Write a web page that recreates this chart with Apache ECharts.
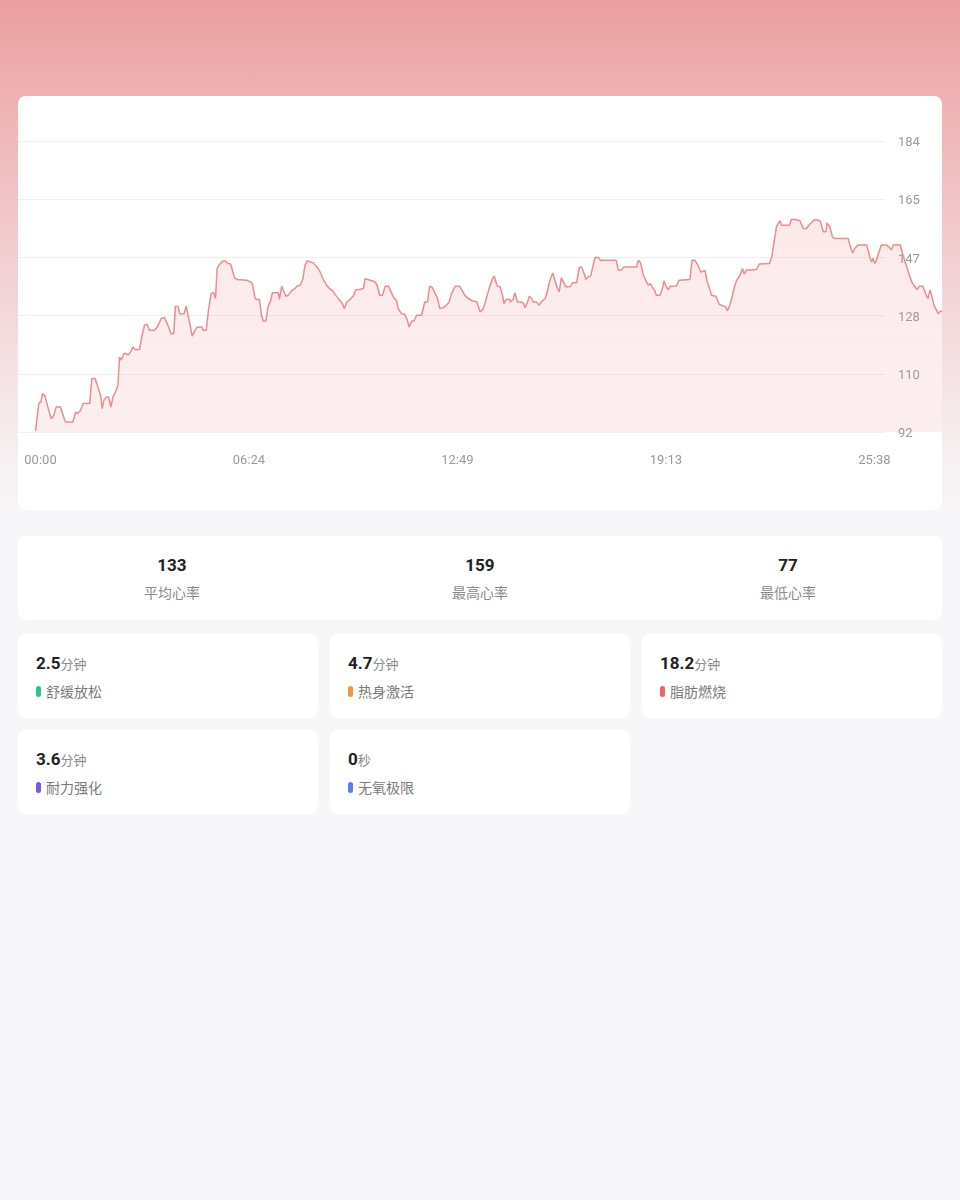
<!DOCTYPE html>
<html>
<head>
<meta charset="utf-8">
<script src="https://cdn.jsdelivr.net/npm/echarts@6/dist/echarts.min.js"></script>
<style>
html,body{margin:0;padding:0;}
body{width:960px;height:1200px;position:relative;overflow:hidden;
  background:linear-gradient(180deg,#eb9fa1 0px,#efb5b7 120px,#f2cdd0 250px,#f5e3e5 380px,#f7f2f4 470px,#f7f7f9 530px,#f7f7f9 1200px);
  font-family:Roboto,"Noto Sans CJK SC",sans-serif;}
.card{position:absolute;background:#fff;border-radius:8px;}
.sumCol{position:absolute;top:0;width:308px;height:84px;text-align:center;}
.sumVal{position:absolute;left:0;right:0;top:18px;font-size:17px;font-weight:700;color:#222;line-height:22px;}
.sumLab{position:absolute;left:0;right:0;top:47px;font-size:14px;color:#8a8a8a;line-height:18px;font-family:"Noto Sans CJK SC",sans-serif;}
.zVal{position:absolute;left:18px;top:18px;line-height:22px;white-space:nowrap;}
.zNum{font-size:17px;font-weight:700;color:#222;}
.zUnit{font-size:13px;color:#8a8a8a;font-family:"Noto Sans CJK SC",sans-serif;}
.zLab{position:absolute;left:28px;top:48px;font-size:14px;color:#7a7a7a;line-height:18px;font-family:"Noto Sans CJK SC",sans-serif;}
.zDot{position:absolute;left:18px;top:52px;width:5px;height:11px;border-radius:3px;}
</style>
</head>
<body>
<div class="card" style="left:18px;top:96px;width:924px;height:414px;">
  <div id="chart" style="width:924px;height:414px;"></div>
</div>
<div class="card" id="summary" style="left:18px;top:536px;width:924px;height:84px;"></div>
<div id="zones"></div>
<script>
// heart-rate samples: [seconds, bpm]
const hrPart1 = [[0,92.3],[6,101],[10,101.5],[13,104.1],[17,103.6],[22,100.4],[29,96.2],[34,97.3],[38,99.9],[46,99.9],[51,97.3],[55,95.2],[69,95.2],[74,98.3],[78,97.8],[83,98.9],[88,101],[100,101],[104,108.9],[110,108.9],[115,106.2],[120,103.6],[123,99.4],[126,102],[131,103.1],[135,103.1],[139,99.9],[143,103.1],[149,105.2],[152,106.8],[155,115.7],[158,114.7],[163,116.8],[167,116.8],[171,116.3],[177,117.8],[180,118.9],[183,118.1],[192,118.1],[196,122.1],[201,125.8],[206,126.1],[210,124.2],[220,124.2],[225,125.4],[229,126.8],[232,127.9],[238,128.2],[241,128.2],[244,125.8],[250,123.1],[255,123.1],[258,131.8],[263,131.6],[266,129.4],[274,129.4],[278,131.8],[281,132],[284,126.8],[289,122.3],[292,122.3],[297,125],[303,125.2],[307,125.2],[309,124.2],[315,124.2],[319,130.5],[324,135.8],[329,136],[332,134.2],[335,143.7],[338,144.7],[341,144.7],[346,146.1],[350,146.1],[355,145.3],[360,145.1],[364,142.6],[367,140.8],[372,140.2],[389,140],[392,139.5]];
const hrPart2 = [[396,139.5],[400,138.9],[405,134.2],[409,133.9],[413,133.9],[417,128.9],[420,127.1],[425,127.1],[429,131.6],[434,133.7],[437,136],[448,136],[450,133.9],[454,138.1],[457,138.1],[462,134.9],[466,135.2],[472,136.6],[479,137.4],[482,138.1],[488,138.4],[493,140.2],[497,144.7],[501,146.1],[506,145.8],[512,145.5],[519,144.2],[525,142.6],[531,140.2],[537,138.4],[542,137.4],[548,136.6],[554,135.2],[560,133.9],[566,132.6],[570,131],[574,133.1],[580,133.9],[583,133.9],[587,135.2],[591,137],[595,137],[605,137.4],[608,140.5],[611,141.1],[617,140],[626,139.5],[630,138.4],[635,135.2],[640,135.2],[645,138.1],[651,138.1],[655,136.6],[660,134.7],[666,133.5],[669,131],[675,129.4],[681,129.2],[686,127.3],[689,125.2],[694,127.1],[698,127.1],[703,128.9],[712,128.9],[718,133.1],[723,133.1],[727,138.1],[732,137.7],[737,135.8],[741,134.5],[746,131],[752,131.3],[758,132.1],[763,133.1],[767,135.6],[774,138.1],[782,138.1],[786,137],[792,135.2],[798,134.2],[806,133.5],[814,133.1]];
const hrPart3 = [[820,130],[825,130.7],[829,132.6],[833,135.2],[838,138.1],[843,140.5],[846,141.3],[849,139.5],[852,138.1],[857,137.9],[862,134.7],[864,132.6],[868,133.9],[875,133.9],[876,133.1],[881,133.9],[884,136],[887,136],[889,133.1],[895,133.1],[900,132.8],[903,131.3],[906,132.4],[911,134.9],[915,134.2],[918,133.1],[924,133.1],[929,132.1],[933,133.1],[940,134.2],[943,135.6],[948,139.5],[954,142.3],[958,140],[962,137.7],[966,136.3],[970,140.8],[973,140.8],[978,137.9],[986,137.9],[991,139.2],[998,139.2],[1003,144],[1007,144.2],[1012,142.1],[1015,140.2],[1020,141.1],[1024,141.3],[1029,145.1],[1032,147.2],[1038,147.2],[1042,146.3],[1071,146.3],[1075,143.2],[1081,143.2],[1085,144.2],[1109,144.2],[1112,146.3],[1116,145.5],[1121,141.6],[1127,139.5],[1130,138.4],[1134,138.9],[1138,137.7],[1142,136.8],[1145,135.2],[1152,135.2],[1157,137.7],[1159,139.8],[1163,138.1],[1167,137],[1171,138.1],[1182,138.1],[1187,140],[1207,140.2],[1211,146.3],[1216,146.3],[1222,144.7],[1227,142.6],[1230,143.2],[1235,143],[1239,139.5]];
const hrPart4 = [[1244,137],[1247,135.2],[1255,134.9],[1261,132.4],[1269,131.8],[1273,131.6],[1276,130.3],[1280,131.8],[1284,134.2],[1290,138.4],[1294,140.2],[1299,141.3],[1304,143.7],[1307,141.9],[1311,143.2],[1321,143.2],[1330,143.4],[1335,145.1],[1354,145.3],[1358,147.4],[1364,153.9],[1367,157.1],[1370,157.1],[1373,158.8],[1376,157.4],[1391,157.4],[1394,159.2],[1402,159.2],[1410,158.8],[1416,156.3],[1422,156.3],[1428,157.7],[1436,159],[1444,159],[1448,158.5],[1453,155.3],[1458,155.3],[1460,158.1],[1465,156.9],[1470,153.7],[1474,153.2],[1499,153.2],[1502,151.1],[1507,148.6],[1511,150],[1517,151.1],[1533,151.1],[1536,149.3],[1539,147.2],[1542,145.8],[1545,146.9],[1548,145.3],[1551,146.3],[1556,149],[1560,151.1],[1570,151.1],[1575,150.3],[1579,149.5],[1582,151.1],[1595,151.1],[1599,148.6],[1603,146.3],[1610,142.6],[1616,139.5],[1622,137.9],[1626,137],[1630,138.1],[1637,138.1],[1642,135.6],[1646,134.2],[1650,136.8],[1653,135.2],[1657,132.1],[1662,130.5],[1665,129.4],[1669,130.2],[1673,130.2]];

// axes
const yMin = 92, yMax = 184, yStep = 18.4;
const xMax = 1672, xStep = 384.5;

// summary
const summaryValues = [133, 159, 77];
const summaryLabels = ['平均心率', '最高心率', '最低心率'];

// zones
const zoneValues = ['2.5', '4.7', '18.2', '3.6', '0'];
const zoneUnits = ['分钟', '分钟', '分钟', '分钟', '秒'];
const zoneNames = ['舒缓放松', '热身激活', '脂肪燃烧', '耐力强化', '无氧极限'];
const zoneColors = ['#2dc38b', '#f5953a', '#ef6468', '#7a55e6', '#5a7df0'];

// ---- build summary / zone cards
const sum = document.getElementById('summary');
summaryValues.forEach((v, i) => {
  const col = document.createElement('div');
  col.className = 'sumCol';
  col.style.left = (i * 308) + 'px';
  col.innerHTML = '<div class="sumVal">' + v + '</div><div class="sumLab">' + summaryLabels[i] + '</div>';
  sum.appendChild(col);
});
const zones = document.getElementById('zones');
zoneValues.forEach((v, i) => {
  const c = document.createElement('div');
  c.className = 'card';
  c.style.left = (18 + (i % 3) * 312) + 'px';
  c.style.top = (634 + Math.floor(i / 3) * 96) + 'px';
  c.style.width = '300px';
  c.style.height = '84px';
  c.innerHTML = '<div class="zVal"><span class="zNum">' + v + '</span><span class="zUnit">' + zoneUnits[i] + '</span></div>' +
    '<div class="zDot" style="background:' + zoneColors[i] + '"></div><div class="zLab">' + zoneNames[i] + '</div>';
  zones.appendChild(c);
});

// ---- chart
const hrData = hrPart1.concat(hrPart2, hrPart3, hrPart4);
function mmss(s) {
  s = Math.floor(s + 1e-6);
  const m = Math.floor(s / 60), r = s % 60;
  return String(m).padStart(2, '0') + ':' + String(r).padStart(2, '0');
}
const chart = echarts.init(document.getElementById('chart'), null, {renderer: 'canvas'});
chart.setOption({
  animation: false,
  grid: [
    {left: 0, right: 57, top: 45, bottom: 78},
    {left: 17.5, right: 0, top: 45, bottom: 78}
  ],
  xAxis: [
    {gridIndex: 0, type: 'value', show: false, min: 0, max: 1},
    {gridIndex: 1, type: 'value', min: 0, max: xMax, interval: xStep,
      axisLine: {show: false}, axisTick: {show: false}, splitLine: {show: false},
      axisLabel: {showMaxLabel: false, color: '#9a9a9a', fontSize: 13, fontFamily: 'Roboto',
        margin: 22, padding: [0, 0, 0, 10], formatter: v => mmss(v)}}
  ],
  yAxis: [
    {gridIndex: 0, type: 'value', position: 'right', min: yMin, max: yMax, interval: yStep,
      axisLine: {show: false}, axisTick: {show: false},
      splitLine: {show: true, lineStyle: {color: 'rgba(0,0,0,0.06)', width: 1}},
      axisLabel: {color: '#9a9a9a', fontSize: 13, fontFamily: 'Roboto', margin: 13,
        formatter: v => '{t|' + Math.floor(v + 1e-6) + '}',
        rich: {t: {color: '#9a9a9a', fontSize: 13, fontFamily: 'Roboto', padding: [4, 0, 0, 0]}}}},
    {gridIndex: 1, type: 'value', min: yMin, max: yMax, show: false, splitLine: {show: false}}
  ],
  series: [{
    type: 'line',
    xAxisIndex: 1, yAxisIndex: 1,
    data: hrData,
    showSymbol: false,
    symbol: 'none',
    clip: true,
    z: 1,
    lineStyle: {color: '#ec8d8f', width: 1.5},
    areaStyle: {
      origin: 'start',
      color: new echarts.graphic.LinearGradient(0, 0, 0, 1, [
        {offset: 0, color: 'rgba(238,128,134,0.24)'},
        {offset: 1, color: 'rgba(238,128,134,0.18)'}
      ])
    }
  }]
});
</script>
</body>
</html>
